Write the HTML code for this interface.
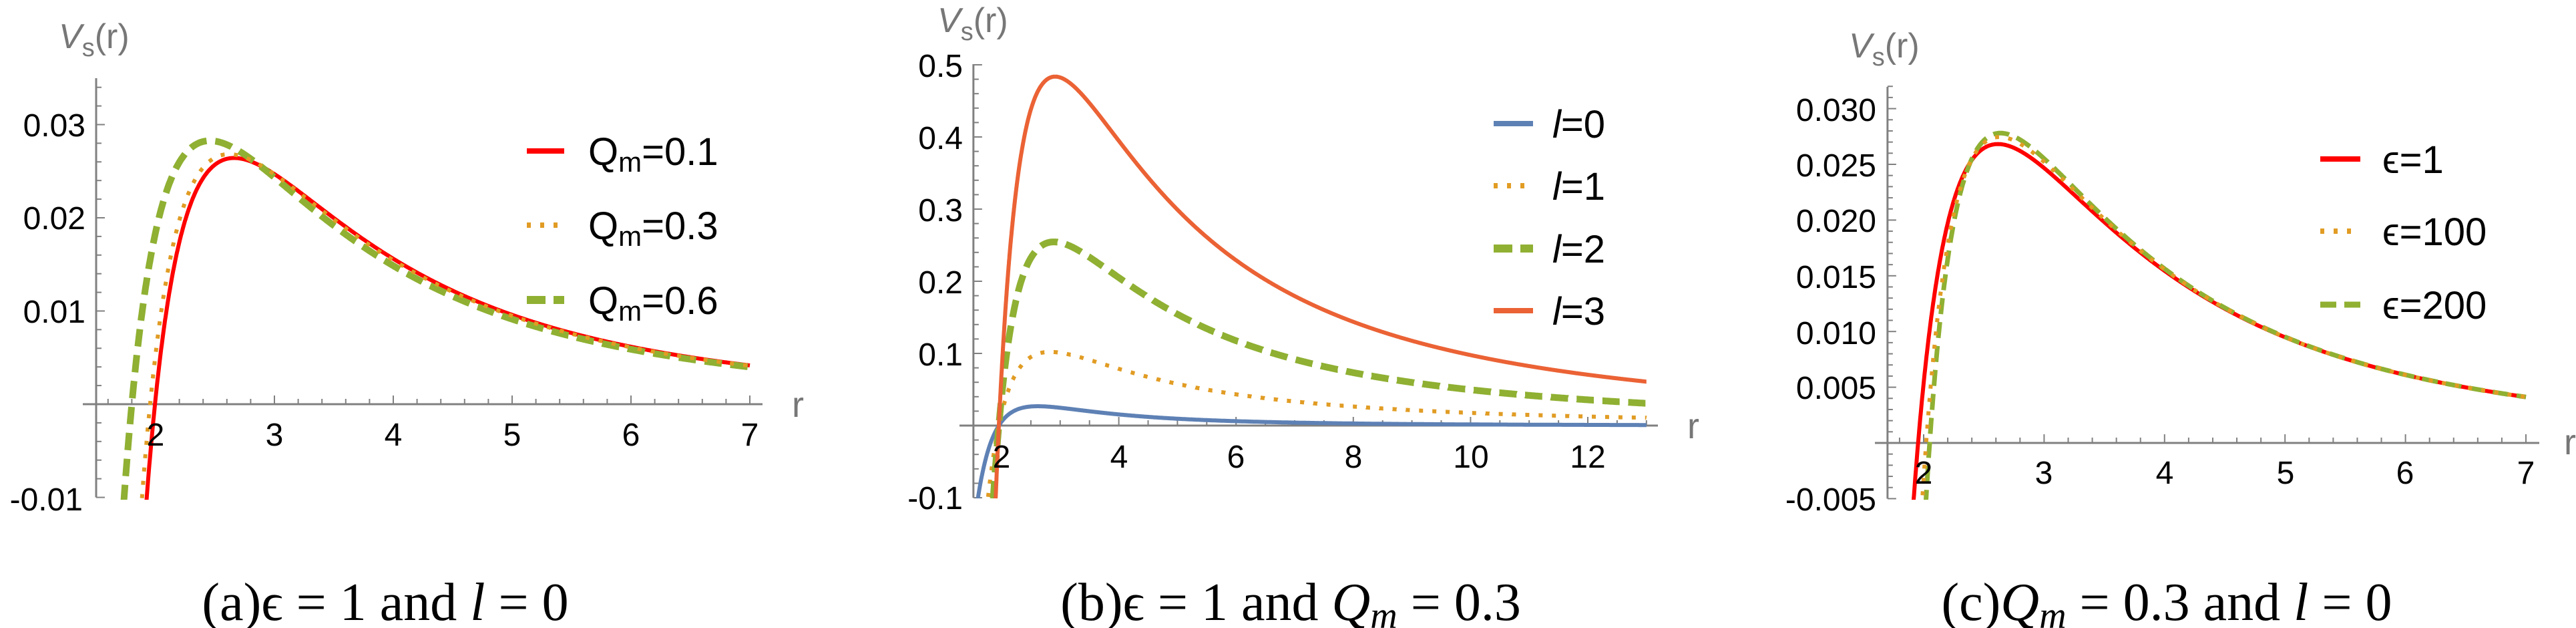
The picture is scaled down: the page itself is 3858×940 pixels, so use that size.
<!DOCTYPE html>
<html><head><meta charset="utf-8">
<style>
html,body{margin:0;padding:0;background:#fff;}
svg{display:block;}
.tl{font-family:"Liberation Sans",sans-serif;font-size:48px;fill:#000;}
.ax{font-family:"Liberation Sans",sans-serif;fill:#777;}
.lg{font-family:"Liberation Sans",sans-serif;font-size:58px;fill:#000;}
.cap{font-family:"Liberation Serif",serif;font-size:80px;fill:#000;}
</style></head>
<body>
<svg id="s" width="3858" height="940" viewBox="0 0 3858 940" xmlns="http://www.w3.org/2000/svg">
<defs>
<clipPath id="ca"><rect x="0" y="0" width="1200" height="748"/></clipPath>
<clipPath id="cb"><rect x="1300" y="0" width="1200" height="746"/></clipPath>
<clipPath id="cc"><rect x="2600" y="0" width="1258" height="748"/></clipPath>
</defs>
<g id="axes"></g>
<g id="curves"></g>

<!-- Panel A text -->
<text class="ax" x="88" y="72" font-size="52"><tspan font-style="italic">V</tspan><tspan font-size="38" dy="12">s</tspan><tspan dy="-12">(r)</tspan></text>
<text class="tl" x="128" y="204" text-anchor="end">0.03</text>
<text class="tl" x="128" y="343" text-anchor="end">0.02</text>
<text class="tl" x="128" y="483" text-anchor="end">0.01</text>
<text class="tl" x="124" y="764" text-anchor="end">-0.01</text>
<text class="tl" x="233" y="667" text-anchor="middle">2</text>
<text class="tl" x="411" y="667" text-anchor="middle">3</text>
<text class="tl" x="589" y="667" text-anchor="middle">4</text>
<text class="tl" x="767" y="667" text-anchor="middle">5</text>
<text class="tl" x="945" y="667" text-anchor="middle">6</text>
<text class="tl" x="1123" y="667" text-anchor="middle">7</text>
<text class="ax" x="1186" y="624" font-size="54">r</text>
<text class="lg" x="881" y="247">Q<tspan font-size="42" dy="10">m</tspan><tspan dy="-10">=0.1</tspan></text>
<text class="lg" x="881" y="358">Q<tspan font-size="42" dy="10">m</tspan><tspan dy="-10">=0.3</tspan></text>
<text class="lg" x="881" y="470">Q<tspan font-size="42" dy="10">m</tspan><tspan dy="-10">=0.6</tspan></text>
<text class="cap" x="577" y="928" text-anchor="middle">(a)ϵ = 1 and <tspan font-style="italic">l</tspan> = 0</text>

<!-- Panel B text -->
<text class="ax" x="1404" y="48" font-size="52"><tspan font-style="italic">V</tspan><tspan font-size="38" dy="12">s</tspan><tspan dy="-12">(r)</tspan></text>
<text class="tl" x="1442" y="115" text-anchor="end">0.5</text>
<text class="tl" x="1442" y="223" text-anchor="end">0.4</text>
<text class="tl" x="1442" y="331" text-anchor="end">0.3</text>
<text class="tl" x="1442" y="439" text-anchor="end">0.2</text>
<text class="tl" x="1442" y="547" text-anchor="end">0.1</text>
<text class="tl" x="1442" y="762" text-anchor="end">-0.1</text>
<text class="tl" x="1500" y="700" text-anchor="middle">2</text>
<text class="tl" x="1676" y="700" text-anchor="middle">4</text>
<text class="tl" x="1851" y="700" text-anchor="middle">6</text>
<text class="tl" x="2027" y="700" text-anchor="middle">8</text>
<text class="tl" x="2203" y="700" text-anchor="middle">10</text>
<text class="tl" x="2378" y="700" text-anchor="middle">12</text>
<text class="ax" x="2527" y="656" font-size="54">r</text>
<text class="lg" x="2325" y="206"><tspan font-style="italic">l</tspan>=0</text>
<text class="lg" x="2325" y="299"><tspan font-style="italic">l</tspan>=1</text>
<text class="lg" x="2325" y="393"><tspan font-style="italic">l</tspan>=2</text>
<text class="lg" x="2325" y="486"><tspan font-style="italic">l</tspan>=3</text>
<text class="cap" x="1933" y="928" text-anchor="middle">(b)ϵ = 1 and <tspan font-style="italic">Q<tspan font-size="56" dy="12">m</tspan></tspan><tspan dy="-12"> = 0.3</tspan></text>

<!-- Panel C text -->
<text class="ax" x="2769" y="86" font-size="52"><tspan font-style="italic">V</tspan><tspan font-size="38" dy="12">s</tspan><tspan dy="-12">(r)</tspan></text>
<text class="tl" x="2810" y="181" text-anchor="end">0.030</text>
<text class="tl" x="2810" y="264" text-anchor="end">0.025</text>
<text class="tl" x="2810" y="347" text-anchor="end">0.020</text>
<text class="tl" x="2810" y="431" text-anchor="end">0.015</text>
<text class="tl" x="2810" y="515" text-anchor="end">0.010</text>
<text class="tl" x="2810" y="597" text-anchor="end">0.005</text>
<text class="tl" x="2810" y="764" text-anchor="end">-0.005</text>
<text class="tl" x="2881" y="724" text-anchor="middle">2</text>
<text class="tl" x="3061" y="724" text-anchor="middle">3</text>
<text class="tl" x="3242" y="724" text-anchor="middle">4</text>
<text class="tl" x="3423" y="724" text-anchor="middle">5</text>
<text class="tl" x="3602" y="724" text-anchor="middle">6</text>
<text class="tl" x="3783" y="724" text-anchor="middle">7</text>
<text class="ax" x="3840" y="680" font-size="54">r</text>
<text class="lg" x="3568" y="259">ϵ=1</text>
<text class="lg" x="3568" y="367">ϵ=100</text>
<text class="lg" x="3568" y="477">ϵ=200</text>
<text class="cap" x="3245" y="928" text-anchor="middle">(c)<tspan font-style="italic">Q<tspan font-size="56" dy="12">m</tspan></tspan><tspan dy="-12"> = 0.3 and </tspan><tspan font-style="italic">l</tspan> = 0</text>
</svg>
<script>
var NS="http://www.w3.org/2000/svg";
var axes=document.getElementById("axes"),curves=document.getElementById("curves");
function el(p,tag,a){var e=document.createElementNS(NS,tag);for(var k in a)e.setAttribute(k,a[k]);p.appendChild(e);return e;}
var AX="#808080";
function line(x1,y1,x2,y2,w){el(axes,"line",{x1:x1,y1:y1,x2:x2,y2:y2,stroke:AX,"stroke-width":w||2.5});}
function panel(P){
  line(P.xa0,P.Y(0),P.xa1,P.Y(0),3);
  line(P.X(P.r0),P.yTop,P.X(P.r0),P.Y(P.vmin),3);
  for(var r=P.xt0;r<=P.xt1+1e-9;r+=P.xminor){
    var maj=Math.abs(r/P.xmajor-Math.round(r/P.xmajor))<1e-6;
    var x=P.X(r); if(x<P.X(P.r0)+2) continue;
    line(x,P.Y(0),x,P.Y(0)-(maj?13:8),2);
  }
  for(var v=P.yt0;v<=P.yt1+1e-12;v+=P.yminor){
    var maj=Math.abs(v/P.ymajor-Math.round(v/P.ymajor))<1e-6;
    var y=P.Y(v); if(y<P.yTop-1) continue;
    if(Math.abs(v)<1e-9) continue;
    line(P.X(P.r0),y,P.X(P.r0)+(maj?13:8),y,2);
  }
}
function V(r,Q,l,M){M=M||1;var f=1-2*M/r+Q*Q/(r*r);var fp=2*M/(r*r)-2*Q*Q/(r*r*r);return f*(l*(l+1)/(r*r)+fp/r);}
function curve(P,fn,r0,r1,style,clip){
  var d="",started=false;
  for(var r=r0;r<=r1+1e-9;r+=0.004){
    var v=fn(r); if(!isFinite(v)) continue;
    if(v<P.vmin-0.5*(P.ymajor)*3){started=false;continue;}
    var x=P.X(r),y=P.Y(v);
    d+=(started?"L":"M")+x.toFixed(1)+","+y.toFixed(1);started=true;
  }
  var a={d:d,fill:"none",stroke:style.c,"stroke-width":style.w,"clip-path":"url(#"+clip+")"};
  if(style.da)a["stroke-dasharray"]=style.da;
  el(curves,"path",a);
}
function leg(x1,x2,y,s){var a={x1:x1,y1:y,x2:x2,y2:y,stroke:s.c,"stroke-width":s.w+2};if(s.da)a["stroke-dasharray"]=s.da;el(curves,"line",a);}
var RED={c:"#ff0000",w:6},DOT={c:"#e19c24",w:6,da:"6,14"},DASH={c:"#8fb032",w:10,da:"26,13"};
var BLUE={c:"#5e81b5",w:6},ORR={c:"#eb6235",w:6};

var A={X:function(r){return 144+(r-1.5)*178;},Y:function(v){return 605-v*13950;},r0:1.5,xa0:124,xa1:1142,yTop:117,vmin:-0.01,
 xt0:1.6,xt1:7,xminor:0.2,xmajor:1,yt0:-0.01,yt1:0.034,yminor:0.002,ymajor:0.01};
panel(A);
curve(A,function(r){return V(r,0.1,0);},1.5,7,RED,"ca");
curve(A,function(r){return V(r,0.6,0);},1.5,7,DASH,"ca");
curve(A,function(r){return V(r,0.3,0);},1.5,7,DOT,"ca");
leg(789,845,226,RED);leg(789,845,337,DOT);leg(789,845,449,{c:DASH.c,w:10,da:"28,12"});

var B={X:function(r){return 1500+(r-2)*87.8;},Y:function(v){return 637-v*1080;},r0:1.52,xa0:1437,xa1:2483,yTop:96,vmin:-0.1,
 xt0:2,xt1:13,xminor:0.5,xmajor:2,yt0:-0.1,yt1:0.5,yminor:0.02,ymajor:0.1};
panel(B);
curve(B,function(r){return V(r,0.3,0);},1.5,13,BLUE,"cb");
curve(B,function(r){return V(r,0.3,1);},1.5,13,DOT,"cb");
curve(B,function(r){return V(r,0.3,2);},1.5,13,DASH,"cb");
curve(B,function(r){return V(r,0.3,3);},1.5,13,ORR,"cb");
leg(2237,2296,185,BLUE);leg(2237,2296,278,DOT);leg(2237,2296,372,{c:DASH.c,w:10,da:"28,12"});leg(2237,2296,465,ORR);

var C={X:function(r){return 2881+(r-2)*180.4;},Y:function(v){return 663-v*16680;},r0:1.7,xa0:2808,xa1:3803,yTop:130,vmin:-0.005,
 xt0:1.8,xt1:7,xminor:0.2,xmajor:1,yt0:-0.005,yt1:0.032,yminor:0.001,ymajor:0.005};
panel(C);
function Ve(d,k){return function(r){var rr=r-d*Math.exp(-(r-1.9)*1.5);return V(rr,0.3,0)*(1+k*Math.exp(-(r-2)*1.0));};}
var DASHC={c:"#8fb032",w:7,da:"24,12"};
curve(C,Ve(0,0),1.7,7,RED,"cc");
curve(C,Ve(0.12,0.07),1.7,7,DASHC,"cc");
curve(C,Ve(0.08,0.045),1.7,7,DOT,"cc");
leg(3475,3535,238,RED);leg(3475,3535,346,DOT);leg(3475,3535,456,DASHC);
</script>
</body></html>
